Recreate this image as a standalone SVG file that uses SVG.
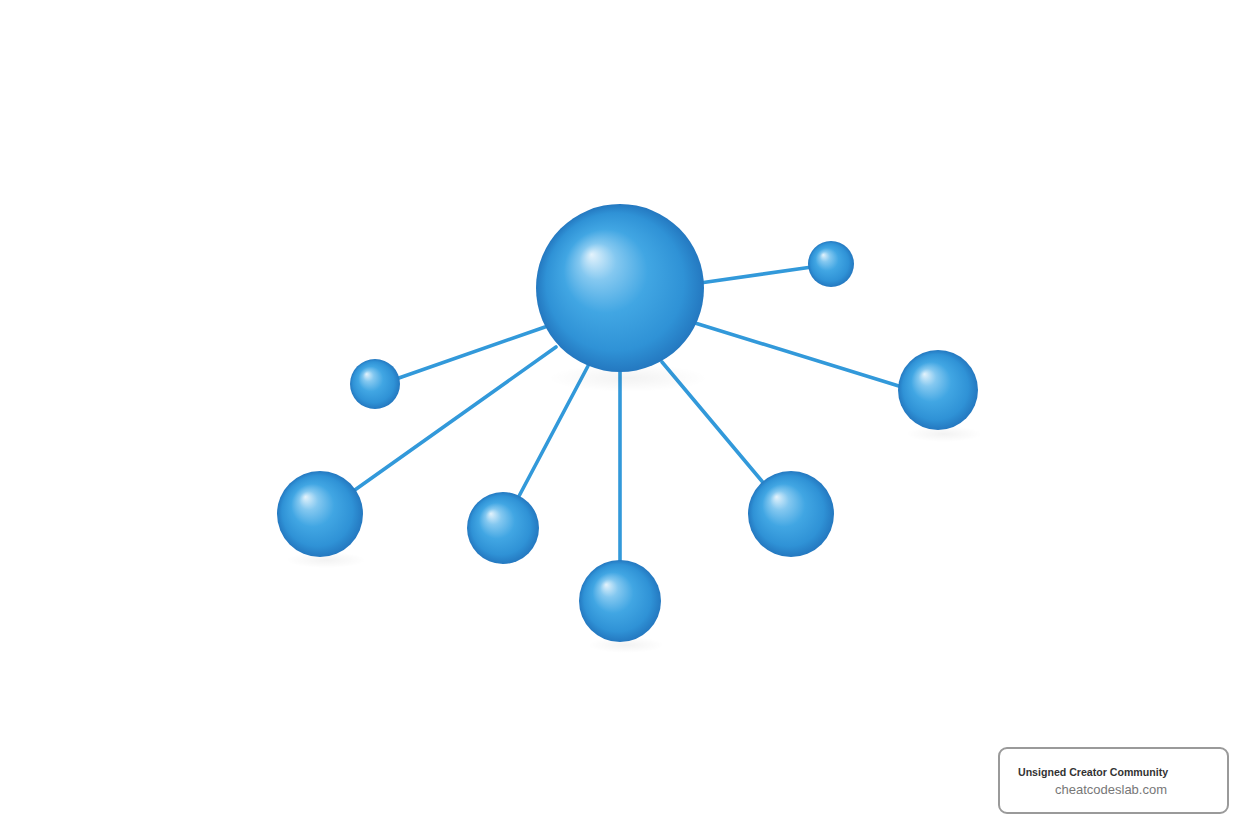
<svg xmlns="http://www.w3.org/2000/svg" width="1240" height="827" viewBox="0 0 1240 827">
<defs>
<radialGradient id="ball" cx="0.5" cy="0.5" r="0.5" fx="0.33" fy="0.3">
<stop offset="0" stop-color="#e4f3fc"/>
<stop offset="0.22" stop-color="#84c8f0"/>
<stop offset="0.5" stop-color="#41a6e3"/>
<stop offset="0.82" stop-color="#2f92d6"/>
<stop offset="1" stop-color="#2478c0"/>
</radialGradient>
<radialGradient id="shade" cx="0.5" cy="0.5" r="0.5">
<stop offset="0" stop-color="#000" stop-opacity="0.05"/>
<stop offset="1" stop-color="#000" stop-opacity="0"/>
</radialGradient>
</defs>
<style>
.edge{stroke:#3299da;stroke-width:3.6;stroke-linecap:round;fill:none}
.sphere{fill:url(#ball)}
.shadow{fill:url(#shade)}
.t1{font-family:"Liberation Sans",Arial,sans-serif;font-size:10.6px;font-weight:bold;fill:#333}
.t2{font-family:"Liberation Sans",Arial,sans-serif;font-size:13px;fill:#777}
</style>
<rect width="1240" height="827" fill="#fff"/>
<g id="connectors">
<line class="edge" x1="700" y1="283" x2="812" y2="267"/>
<line class="edge" x1="695" y1="323" x2="902" y2="387"/>
<line class="edge" x1="545" y1="327" x2="396" y2="379"/>
<line class="edge" x1="556" y1="347" x2="352" y2="492"/>
<line class="edge" x1="588" y1="366" x2="518" y2="498"/>
<line class="edge" x1="620" y1="370" x2="620" y2="562"/>
<line class="edge" x1="662" y1="362" x2="766" y2="486"/>
</g>
<g id="node-center"><ellipse class="shadow" cx="628" cy="378" rx="80" ry="14"/><circle class="sphere" cx="620" cy="288" r="84"/></g>
<g id="node-topright"><circle class="sphere" cx="831" cy="264" r="23"/></g>
<g id="node-right"><ellipse class="shadow" cx="944" cy="434" rx="38" ry="8"/><circle class="sphere" cx="938" cy="390" r="40"/></g>
<g id="node-leftsmall"><circle class="sphere" cx="375" cy="384" r="25"/></g>
<g id="node-leftbig"><ellipse class="shadow" cx="326" cy="560" rx="40" ry="8"/><circle class="sphere" cx="320" cy="514" r="43"/></g>
<g id="node-midleft"><circle class="sphere" cx="503" cy="528" r="36"/></g>
<g id="node-bottom"><ellipse class="shadow" cx="626" cy="645" rx="38" ry="8"/><circle class="sphere" cx="620" cy="601" r="41"/></g>
<g id="node-midright"><circle class="sphere" cx="791" cy="514" r="43"/></g>
<g id="label">
<rect x="999" y="748" width="229" height="65" rx="8" fill="#fff" stroke="#9a9a9a" stroke-width="2"/>
<text class="t1" x="1018" y="776">Unsigned Creator Community</text>
<text class="t2" x="1055" y="794">cheatcodeslab.com</text>
</g>
</svg>
